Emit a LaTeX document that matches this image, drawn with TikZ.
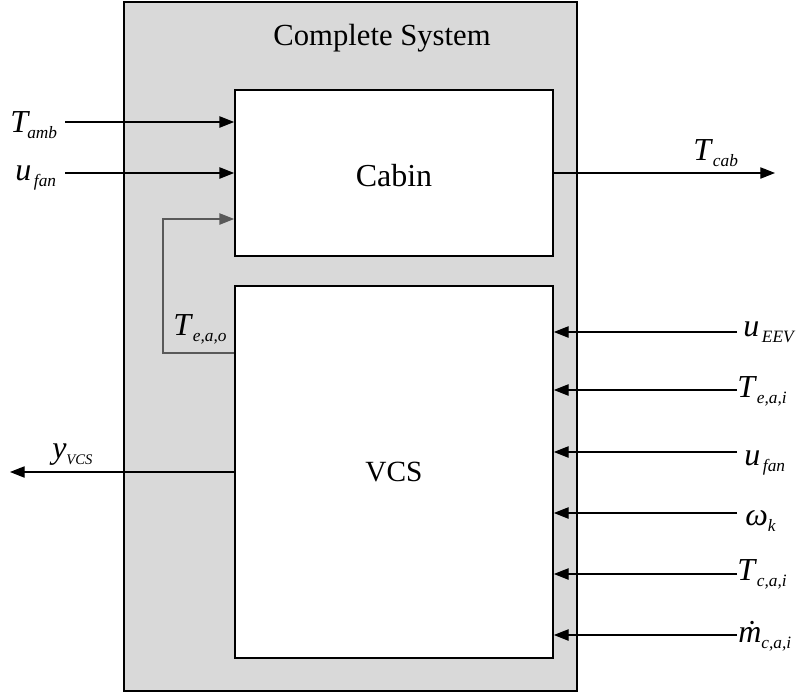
\documentclass[tikz,border=0pt]{standalone}
\usepackage{fontspec}
\setmainfont{Liberation Serif}
\usetikzlibrary{arrows.meta,positioning,calc}
\definecolor{sysgray}{RGB}{217,217,217}
\newcommand{\sig}[3][0pt]{\textit{#2}\kern#1\raisebox{-5pt}{\fontsize{13}{15}\selectfont\textit{#3}}}

\begin{document}
\begin{tikzpicture}[x=0.75pt, y=-0.75pt,
  sysbox/.style={draw, line width=1.3pt, fill=sysgray, minimum width=339.75pt, minimum height=516.75pt, inner sep=0pt},
  block/.style={draw, line width=1.3pt, fill=white, inner sep=0pt, font=\fontsize{24}{28}\selectfont},
  sig/.style={-{Triangle[length=11pt,width=8.5pt]}, line width=0.8pt},
  fb/.style={-{Triangle[length=11pt,width=8.5pt]}, line width=0.8pt, draw=black!65},
  lbl/.style={inner sep=0pt, anchor=base west, font=\fontsize{24}{28}\selectfont}
]
\useasboundingbox (0,0) rectangle (801,693);

\node[sysbox] (sys) at (350.5,346.5) {};
\node[inner sep=0pt, anchor=base, font=\fontsize{23}{27}\selectfont] (title) at (382,45) {Complete System};

\node[block, minimum width=238.5pt, minimum height=124.5pt] (cabin) at (394,173) {\smash{\raisebox{-10pt}{Cabin}}};
\node[block, minimum width=238.5pt, minimum height=279pt, font=\fontsize{22}{26}\selectfont] (vcs) at (394,472) {VCS};

% inputs of the cabin
\node[lbl] (tamb) at (10,132) {\sig[-2pt]{T}{amb}};
\node[lbl] (ufanc) at (15,180) {\sig[2pt]{u}{fan}};
\draw[sig] (65,122) -- (cabin.west |- 0,122);
\draw[sig] (65,173) -- (cabin.west |- 0,173);

% feedback from the evaporator
\coordinate (fbout) at (vcs.west |- 0,353);
\coordinate (fbin) at (cabin.west |- 0,219);
\draw[fb] (fbout) -| (163,219) -- (fbin);
\node[lbl] (teao) at (173,335) {\sig{T}{e,a,o}};

% outputs
\coordinate (tcabend) at (775,173);
\draw[sig] (cabin.east |- tcabend) -- (tcabend);
\node[lbl] (tcab) at (693,160) {\sig{T}{cab}};

\coordinate (yvcsend) at (10,472);
\draw[sig] (vcs.west |- yvcsend) -- (yvcsend);
\node[lbl] (yvcs) at (52,458) {\textit{y}\raisebox{-5pt}{\fontsize{11}{13}\selectfont\textit{VCS}}};

% inputs of the VCS
\foreach \nm/\xx/\yy/\bl/\txt in {ueev/743/332/336/\sig[2pt]{u}{EEV}, teai/737/390/397/\sig{T}{e,a,i},
    ufanv/744/452/465/\sig[2pt]{u}{fan}, omk/745/513/525/\sig{ω}{k},
    tcai/737/574/580/\sig{T}{c,a,i}, mcai/738/635/642/\sig{\.{m}}{c,a,i}} {
  \node[lbl] (\nm) at (\xx,\bl) {\txt};
  \draw[sig] (737,\yy) -- (vcs.east |- 0,\yy);
}
\end{tikzpicture}
\end{document}
